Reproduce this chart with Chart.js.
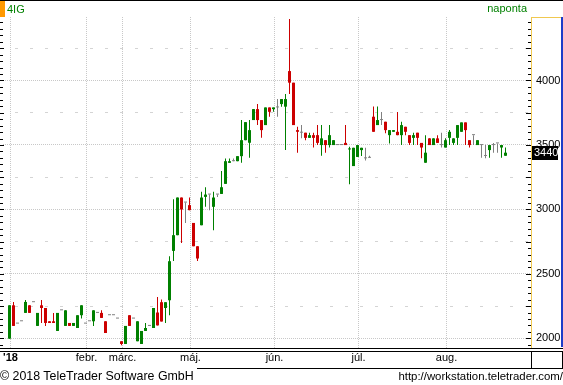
<!DOCTYPE html>
<html>
<head>
<meta charset="utf-8">
<script src="https://cdn.jsdelivr.net/npm/chart.js@4.4.1/dist/chart.umd.min.js"></script>
<style>
    body { margin: 0; background: #fff; }
    #wrap { position: relative; width: 563px; height: 385px; overflow: hidden; font-family: "Liberation Sans", Arial, sans-serif; }
    #wrap canvas { position: absolute; left: 0; top: 0; }
    .lbl { position: absolute; white-space: nowrap; line-height: 1; }
</style>
</head>
<body>
<div id="wrap">
    <canvas id="chart" width="563" height="385"></canvas>
    <div class="lbl" style="left:7px; top:4px; font-size:11px; color:#008000;">4IG</div>
    <div class="lbl" style="right:36px; top:3px; font-size:11px; color:#008000;">naponta</div>
    <div class="lbl" style="left:0; top:370px; font-size:12.4px; color:#000;">© 2018 TeleTrader Software GmbH</div>
    <div class="lbl" style="right:0; top:371px; font-size:11.4px; color:#000;">http://workstation.teletrader.com/</div>
</div>
<script>
// 가로축: 월 구분선 위치(캔들 번호)와 라벨
const monthTicks = [0, 19, 28, 45, 66, 87, 109];
const monthLabels = ["'18", 'febr.', 'márc.', 'máj.', 'jún.', 'júl.', 'aug.'];
// 세로축: 라벨 + 점선 격자, 그리고 중간 파선 격자
const yTicks = [2000, 2500, 3000, 3500, 4000];
const yDashTicks = [2250, 2750, 3250, 3750, 4250];

// 일봉 데이터 (시가 / 고가 / 저가 / 종가)
const opens = [
    1997, 2256, 2114, 2132, 2197, 2256, 2280, 2096, 2256, 2235,
    2132, 2132, 2057, 2217, 2096, 2119, 2096, 2080, 2179, 2114,
    2132, 2132, 2197, 2197, 2132, 2179, 2179, 2153, 1977, 1956,
    2179, 2153, 1977, 1956, 2057, 2096, 2080, 2200, 2280, 2235,
    2295, 2678, 2800, 3092, 3053, 3033, 2895, 2714, 2877, 3097,
    3115, 3020, 3115, 3120, 3198, 3361, 3374, 3374, 3413, 3537,
    3517, 3693, 3778, 3693, 3654, 3791, 3778, 3791, 3817, 3797,
    4073, 3983, 3615, 3595, 3595, 3555, 3576, 3576, 3499, 3537,
    3499, 3499, 3499, 3499, 3516, 3465, 3336, 3407, 3460, 3396,
    3400, 3719, 3654, 3693, 3680, 3576, 3602, 3602, 3576, 3641,
    3576, 3555, 3595, 3516, 3362, 3551, 3499, 3551, 3499, 3480,
    3555, 3516, 3555, 3602, 3675, 3537, 3576, 3499, 3499, 3414,
    3460, 3499, 3512, 3480, 3416
];
const highs = [
    2256, 2282, 2114, 2132, 2297, 2256, 2280, 2197, 2297, 2235,
    2132, 2197, 2197, 2217, 2217, 2119, 2119, 2179, 2256, 2114,
    2132, 2217, 2197, 2217, 2132, 2179, 2179, 2153, 1977, 2096,
    2179, 2153, 2132, 2057, 2119, 2096, 2235, 2320, 2300, 2280,
    2637, 3079, 3092, 3092, 3053, 3092, 2895, 2714, 3137, 3172,
    3115, 3137, 3115, 3297, 3395, 3395, 3395, 3413, 3693, 3677,
    3693, 3778, 3817, 3693, 3791, 3791, 3791, 3856, 3856, 3895,
    4477, 3983, 3641, 3654, 3595, 3595, 3595, 3654, 3654, 3537,
    3654, 3537, 3499, 3499, 3654, 3486, 3478, 3499, 3478, 3478,
    3416, 3798, 3798, 3755, 3680, 3615, 3615, 3755, 3680, 3641,
    3576, 3595, 3595, 3516, 3576, 3551, 3551, 3576, 3595, 3551,
    3615, 3551, 3654, 3675, 3675, 3537, 3576, 3537, 3499, 3499,
    3499, 3516, 3512, 3499, 3480
];
const lows = [
    1997, 2096, 2114, 2132, 2197, 2197, 2280, 2096, 2119, 2096,
    2119, 2119, 2057, 2217, 2096, 2096, 2096, 2080, 2153, 2114,
    2132, 2096, 2197, 2158, 2041, 2179, 2179, 2153, 1946, 1956,
    2096, 2153, 1977, 1956, 2057, 2096, 2080, 2100, 2130, 2119,
    2179, 2600, 2800, 2740, 2895, 2994, 2714, 2600, 2877, 3020,
    2994, 2839, 3097, 3120, 3198, 3361, 3374, 3374, 3361, 3537,
    3400, 3693, 3654, 3555, 3654, 3718, 3757, 3718, 3797, 3460,
    3895, 3654, 3439, 3551, 3537, 3555, 3480, 3499, 3416, 3440,
    3480, 3499, 3499, 3499, 3499, 3196, 3336, 3407, 3414, 3380,
    3400, 3602, 3654, 3654, 3590, 3512, 3602, 3576, 3499, 3576,
    3499, 3499, 3499, 3396, 3362, 3499, 3499, 3516, 3480, 3480,
    3499, 3499, 3499, 3602, 3499, 3480, 3499, 3499, 3400, 3396,
    3400, 3440, 3440, 3400, 3416
];
const closes = [
    2256, 2096, 2114, 2132, 2282, 2197, 2280, 2197, 2235, 2119,
    2119, 2119, 2197, 2217, 2217, 2096, 2119, 2179, 2256, 2114,
    2132, 2217, 2197, 2158, 2041, 2179, 2179, 2153, 1956, 2096,
    2096, 2153, 2132, 2057, 2080, 2096, 2235, 2100, 2130, 2280,
    2598, 2800, 3092, 2999, 3053, 2994, 2714, 2619, 3092, 3115,
    3115, 3092, 3115, 3172, 3374, 3374, 3374, 3413, 3537, 3677,
    3615, 3778, 3693, 3615, 3791, 3757, 3791, 3791, 3856, 3856,
    3983, 3654, 3602, 3595, 3555, 3576, 3555, 3516, 3551, 3499,
    3576, 3537, 3499, 3499, 3499, 3473, 3478, 3499, 3478, 3396,
    3400, 3602, 3693, 3693, 3615, 3615, 3615, 3576, 3654, 3602,
    3516, 3576, 3555, 3480, 3440, 3499, 3551, 3516, 3499, 3537,
    3602, 3551, 3654, 3675, 3615, 3499, 3576, 3537, 3499, 3414,
    3499, 3499, 3512, 3499, 3440
];

const FONT = '"Liberation Sans", Arial, sans-serif';
const GREEN = '#008000';
const RED = '#cc0000';
const GRAY = '#808080';
const Y_MIN = 1924.7;
const Y_MAX = 4492.6;

Chart.defaults.font.family = FONT;

const candleColor = closes.map((c, i) => c > opens[i] ? GREEN : (c < opens[i] ? RED : GRAY));
const wickData = closes.map((c, i) => ({ x: i, y: [lows[i], highs[i]] }));
const bodyData = closes.map((c, i) => ({ x: i, y: [Math.min(opens[i], c), Math.max(opens[i], c)] }));

// 테두리, 눈금, 마지막 가격 박스
const framePlugin = {
    id: 'frame',
    afterDraw(chart) {
        const ctx = chart.ctx;
        const y = chart.scales.y;
        ctx.save();

        ctx.fillStyle = '#000';
        for (let v = 1950; v <= 4450; v += 50) {
            const py = Math.round(y.getPixelForValue(v));
            const major = v % 250 === 0;
            ctx.fillRect(0, py, major ? 4 : 3, 1);
            ctx.fillRect(major ? 526 : 528, py, major ? 5 : 3, 1);
        }

        ctx.fillRect(0, 0, 563, 1);
        ctx.fillRect(0, 348, 563, 1);
        ctx.fillRect(0, 351, 563, 1);
        ctx.fillRect(531, 351, 1, 17);
        ctx.fillRect(562, 351, 1, 17);
        ctx.fillRect(197, 368, 366, 1);

        ctx.fillStyle = '#ff9900';
        ctx.fillRect(0, 1, 5, 16);

        ctx.fillStyle = '#f0c850';
        ctx.fillRect(531, 17, 1, 331);
        ctx.fillRect(531, 17, 30, 1);
        ctx.fillStyle = '#1e3cc8';
        ctx.fillRect(561, 17, 2, 330);

        // 현재가 표시
        const last = closes[closes.length - 1];
        const ly = y.getPixelForValue(last);
        ctx.fillStyle = '#000';
        ctx.fillRect(532, Math.round(ly) - 7, 26, 14);
        ctx.fillStyle = '#fff';
        ctx.font = '11px ' + FONT;
        ctx.textBaseline = 'middle';
        ctx.textAlign = 'left';
        ctx.fillText(String(last), 534, ly + 0.5);

        ctx.restore();
    }
};

const ctx = document.getElementById('chart').getContext('2d');
new Chart(ctx, {
    type: 'bar',
    data: {
        datasets: [{
            label: 'body',
            data: bodyData,
            backgroundColor: candleColor,
            barThickness: 3,
            minBarLength: 1,
            grouped: false,
            borderWidth: 0,
            inflateAmount: 0,
            order: 0
        }, {
            label: 'wick',
            data: wickData,
            backgroundColor: candleColor,
            barThickness: 1,
            grouped: false,
            borderWidth: 0,
            inflateAmount: 0,
            order: 1
        }]
    },
    options: {
        responsive: false,
        animation: false,
        events: [],
        layout: { padding: { top: 17, left: 3, right: 0, bottom: 17 } },
        plugins: {
            legend: { display: false },
            tooltip: { enabled: false }
        },
        scales: {
            x: {
                type: 'linear',
                offset: false,
                min: -1.625,
                max: 130.375,
                afterBuildTicks: s => { s.ticks = monthTicks.map(v => ({ value: v + 0.25 })); },
                afterFit: s => { s.height = 20; },
                grid: { offset: false, color: '#c8c8c8', drawTicks: false },
                border: { display: false, dash: [1, 1] },
                ticks: {
                    autoSkip: false,
                    maxRotation: 0,
                    padding: 3,
                    color: '#000',
                    font: c => ({ family: FONT, size: 11, weight: c.index === 0 ? 'bold' : 'normal' }),
                    callback: (v, i) => monthLabels[i]
                }
            },
            y: {
                type: 'linear',
                position: 'right',
                min: Y_MIN,
                max: Y_MAX,
                afterBuildTicks: s => { s.ticks = yTicks.map(v => ({ value: v })); },
                afterFit: s => { s.width = 32; },
                grid: { color: '#c8c8c8', drawTicks: false },
                border: { display: false, dash: [1, 1] },
                ticks: {
                    autoSkip: false,
                    padding: 5,
                    color: '#000',
                    font: { family: FONT, size: 11 },
                    callback: v => String(v)
                }
            },
            yDash: {
                type: 'linear',
                position: 'right',
                min: Y_MIN,
                max: Y_MAX,
                afterBuildTicks: s => { s.ticks = yDashTicks.map(v => ({ value: v })); },
                afterFit: s => { s.width = 0; },
                grid: { color: '#d4d4d4', drawTicks: false },
                border: { display: false, dash: [3, 12], dashOffset: 3 },
                ticks: { display: false }
            }
        }
    },
    plugins: [framePlugin]
});
</script>
</body>
</html>
